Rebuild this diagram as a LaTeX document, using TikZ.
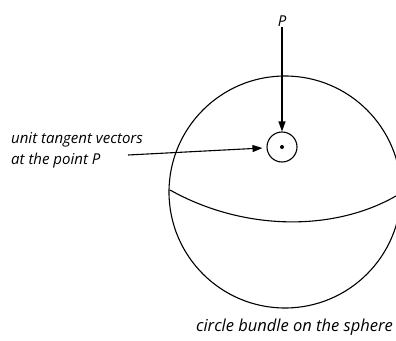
\documentclass[tikz,border=0pt]{standalone}
\usepackage{fontspec}
\setmainfont{Open Sans}
\usetikzlibrary{arrows.meta,positioning}

\begin{document}
\begin{tikzpicture}[x=1pt,y=-1pt,
  lbl/.style={font=\fontsize{15}{21}\selectfont\itshape,inner sep=0pt},
  arr/.style={line width=1.1pt,-{Triangle[length=10pt,width=7pt]}},
  ring/.style={draw,line width=1.1pt,circle,minimum size=30pt,inner sep=0pt}
  ]
  \useasboundingbox (0,0) rectangle (396,340);
  \clip (0,0) rectangle (396,340);
  % sphere and equator
  \draw[line width=1.1pt] (285,192) circle (116);
  \draw[line width=1.1pt] (170,190) .. controls (245,232) and (338,232) .. (401,193);
  % fibre over P
  \node[ring] (tc) at (282,147) {};
  \fill (tc.center) circle (2);
  \node[lbl] (P) at (282,21) {P};
  \draw[arr] (P) -- (tc);
  \node[lbl,align=left,anchor=north west] (unit) at (11,132) {unit tangent vectors\\at the point P};
  \coordinate (tail) at (128,155);
  \draw[arr,shorten >=4pt] (tail) -- (tc);
  \node[lbl,font=\fontsize{16.5}{21}\selectfont\itshape,anchor=base east] (cap) at (393,331) {circle bundle on the sphere};
\end{tikzpicture}
\end{document}
